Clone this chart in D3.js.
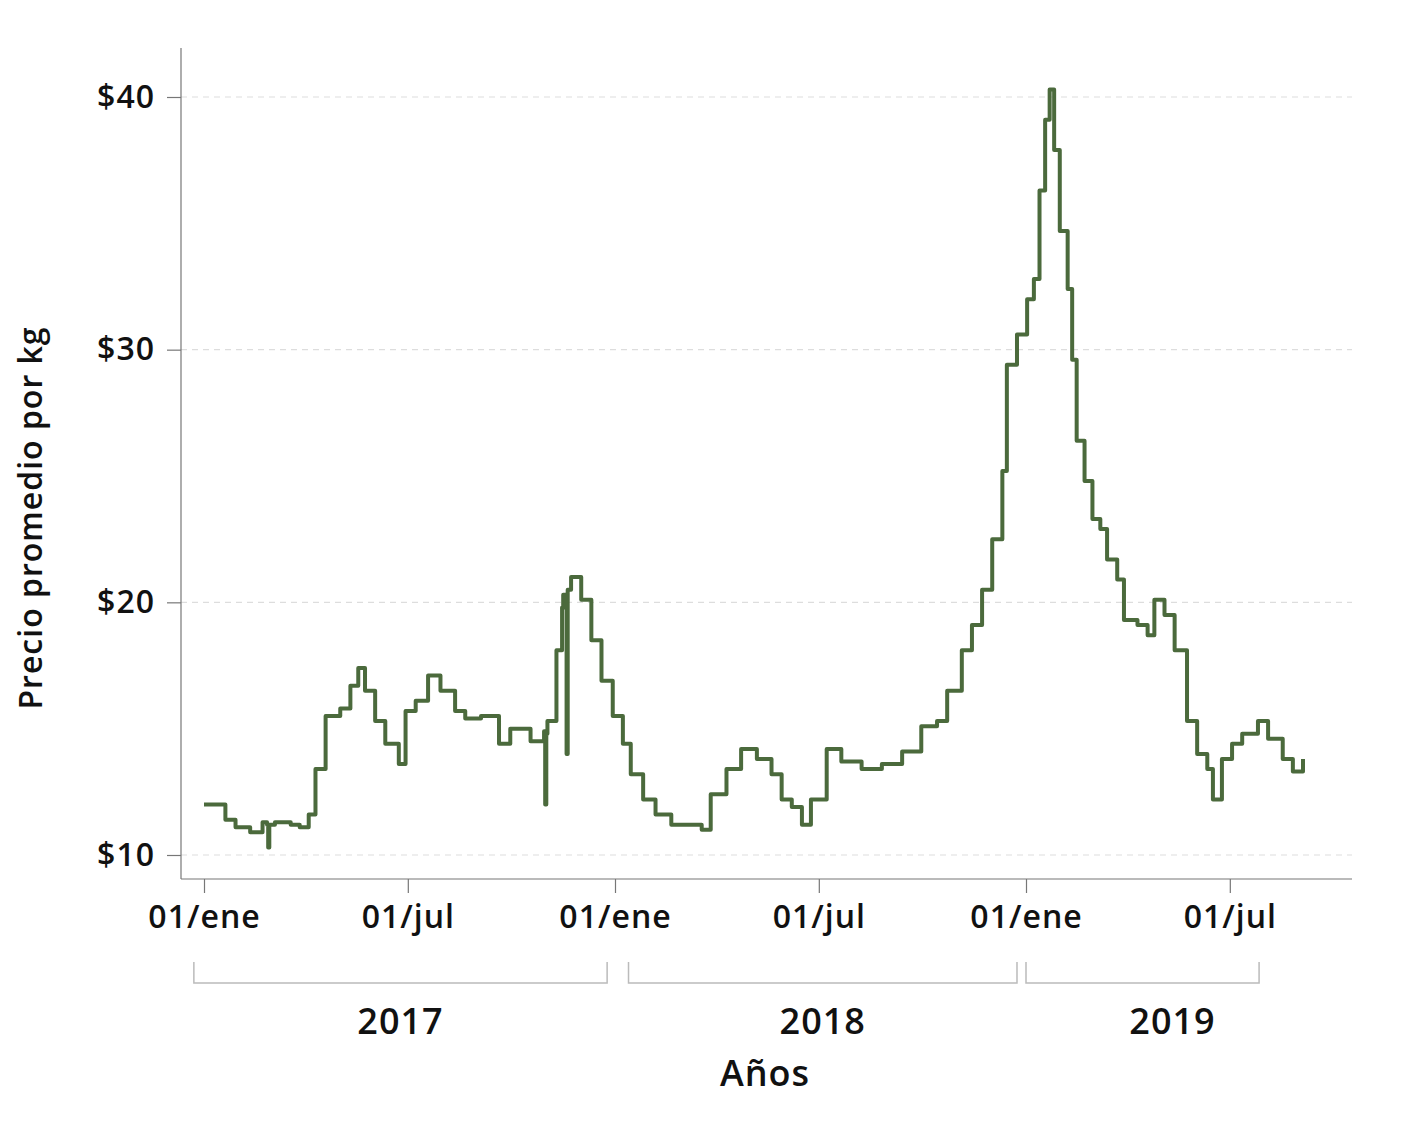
<!DOCTYPE html>
<html lang="es">
<head>
<meta charset="UTF-8" />
<title>Precio promedio por kg</title>
<script src="https://d3js.org/d3.v7.min.js"></script>
<style>
  body { margin: 0; background: #fff; }
  text { font-family: "Open Sans", Lato, sans-serif; fill: #111; }
</style>
</head>
<body>
<svg id="chart" width="1403" height="1129"></svg>
<script>
// days since 2017-01-01 and price per kg
const days = [0,10,19,28,41,52,56,57,58,63,77,85,93,99,108,121,130,137,143,152,161,173,179,188,199,210,223,232,246,262,272,290,302,303,304,305,306,313,318,319,321,322,323,326,335,344,353,363,372,379,390,401,415,433,442,450,464,477,491,504,513,522,531,539,553,566,584,602,620,637,651,660,673,682,691,700,709,713,722,731,737,742,747,751,755,760,767,771,775,782,789,796,802,811,817,829,838,844,853,862,873,882,891,896,904,913,922,936,945,958,967,976];
const prices = [12.0,12.0,11.4,11.1,10.9,11.3,11.2,10.3,11.2,11.3,11.2,11.1,11.6,13.4,15.5,15.8,16.7,17.4,16.5,15.3,14.4,13.6,15.7,16.1,17.1,16.5,15.7,15.4,15.5,14.4,15.0,14.5,14.9,12.0,14.8,15.3,15.3,18.1,19.8,20.3,20.2,14.0,20.5,21.0,20.1,18.5,16.9,15.5,14.4,13.2,12.2,11.6,11.2,11.2,11.0,12.4,13.4,14.2,13.8,13.2,12.2,11.9,11.2,12.2,14.2,13.7,13.4,13.6,14.1,15.1,15.3,16.5,18.1,19.1,20.5,22.5,25.2,29.4,30.6,32.0,32.8,36.3,39.1,40.3,37.9,34.7,32.4,29.6,26.4,24.8,23.3,22.9,21.7,20.9,19.3,19.1,18.7,20.1,19.5,18.1,15.3,14.0,13.4,12.2,13.8,14.4,14.8,15.3,14.6,13.8,13.3,13.8];
const yTicks = [10, 20, 30, 40];
const xTickDays = [0, 181, 365, 546, 730, 911];
const xTickLabels = ["01/ene", "01/jul", "01/ene", "01/jul", "01/ene", "01/jul"];
const years = ["2017", "2018", "2019"];
const yearStart = [-9, 377, 730];
const yearEnd = [358, 722, 937];

const start = new Date(2017, 0, 1);
const toDate = d => d3.timeDay.offset(start, d);
const data = days.map((d, i) => ({ date: toDate(d), v: prices[i] }));

const svg = d3.select("#chart");
const plotLeft = 181, plotRight = 1352, plotTop = 48, plotBottom = 879;

const x = d3.scaleTime().domain([toDate(0), toDate(730)]).range([204, 1026]);
const y = d3.scaleLinear().domain([10, 40]).range([855, 97]);

// grid
svg.append("g").selectAll("line").data(yTicks).enter().append("line")
  .attr("x1", plotLeft).attr("x2", plotRight)
  .attr("y1", d => y(d)).attr("y2", d => y(d))
  .attr("stroke", "#ddd").attr("stroke-width", 1.2).attr("stroke-dasharray", "6,5");

// axes
const yAxis = svg.append("g").attr("transform", `translate(${plotLeft},0)`)
  .call(d3.axisLeft(y).tickValues(yTicks).tickFormat(d => "$" + d).tickSize(14).tickPadding(12));
const xAxis = svg.append("g").attr("transform", `translate(0,${plotBottom})`)
  .call(d3.axisBottom(x).tickValues(xTickDays.map(toDate))
    .tickFormat((d, i) => xTickLabels[i]).tickSize(14).tickPadding(12));
[yAxis, xAxis].forEach(a => {
  a.select(".domain").remove();
  a.selectAll("line").attr("stroke", "#777").attr("stroke-width", 1.2);
  a.selectAll("text").style("font-size", "32px").style("font-weight", 600)
    .style("letter-spacing", "1px").attr("fill", "#111");
});
svg.append("line").attr("x1", plotLeft).attr("x2", plotLeft).attr("y1", plotTop).attr("y2", plotBottom)
  .attr("stroke", "#777").attr("stroke-width", 1.2);
svg.append("line").attr("x1", plotLeft).attr("x2", plotRight).attr("y1", plotBottom).attr("y2", plotBottom)
  .attr("stroke", "#777").attr("stroke-width", 1.2);

// line
svg.append("path").datum(data)
  .attr("fill", "none").attr("stroke", "#4b6a3c").attr("stroke-width", 4)
  .attr("stroke-linejoin", "round")
  .attr("d", d3.line().x(d => x(d.date)).y(d => y(d.v)).curve(d3.curveStepAfter));

// year brackets
years.forEach((yr, i) => {
  const x0 = x(toDate(yearStart[i])), x1 = x(toDate(yearEnd[i]));
  svg.append("path")
    .attr("d", `M${x0},962V983H${x1}V962`)
    .attr("fill", "none").attr("stroke", "#bbb").attr("stroke-width", 1.5);
  svg.append("text").attr("x", (x0 + x1) / 2 + (i === 2 ? 30 : 0)).attr("y", 1034)
    .attr("text-anchor", "middle").style("font-size", "36px").style("font-weight", 600)
    .style("letter-spacing", "1px").text(yr);
});

svg.append("text").attr("x", 765).attr("y", 1086).attr("text-anchor", "middle")
  .style("font-size", "36px").style("font-weight", 600).style("letter-spacing", "1px").text("Años");
svg.append("text").attr("transform", "translate(42,518) rotate(-90)")
  .attr("text-anchor", "middle").style("font-size", "32px").style("font-weight", 600)
  .style("letter-spacing", "1px").text("Precio promedio por kg");
</script>
</body>
</html>
